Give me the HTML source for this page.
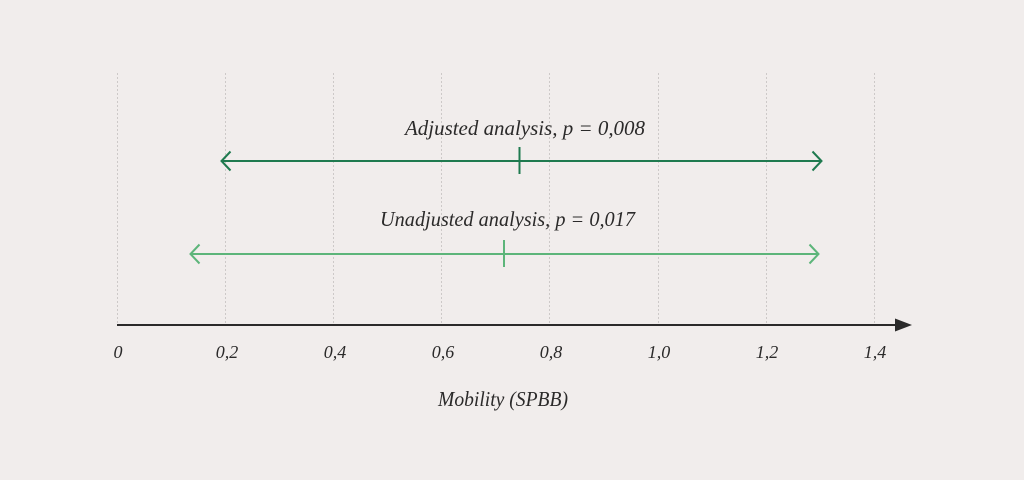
<!DOCTYPE html>
<html>
<head>
<meta charset="utf-8">
<style>
html,body{margin:0;padding:0;background:#f1edec;}
svg{display:block;}
text{font-family:"Liberation Serif",serif;font-style:italic;fill:#2b2a2a;}
</style>
</head>
<body>
<svg width="1024" height="480" viewBox="0 0 1024 480" xmlns="http://www.w3.org/2000/svg">
<rect width="1024" height="480" fill="#f1edec"/>
<g stroke="#cdc9c8" stroke-width="1" stroke-dasharray="2,2">
<line x1="117.5" y1="73" x2="117.5" y2="325"/>
<line x1="225.5" y1="73" x2="225.5" y2="325"/>
<line x1="333.5" y1="73" x2="333.5" y2="325"/>
<line x1="441.5" y1="73" x2="441.5" y2="325"/>
<line x1="549.5" y1="73" x2="549.5" y2="325"/>
<line x1="658.5" y1="73" x2="658.5" y2="325"/>
<line x1="766.5" y1="73" x2="766.5" y2="325"/>
<line x1="874.5" y1="73" x2="874.5" y2="325"/>
</g>
<line x1="117" y1="325" x2="898" y2="325" stroke="#2b2a2a" stroke-width="2"/>
<polygon points="895,318.5 912,325 895,331.5" fill="#2b2a2a"/>

<g stroke="#1f7a4f" stroke-width="2" fill="none">
<line x1="222" y1="161" x2="821" y2="161"/>
<polyline points="230.5,151.5 221.5,161 230.5,170.5"/>
<polyline points="812.5,151.5 821.5,161 812.5,170.5"/>
<line x1="519.5" y1="147" x2="519.5" y2="174"/>
</g>
<g stroke="#5db57a" stroke-width="2" fill="none">
<line x1="191" y1="254" x2="818" y2="254"/>
<polyline points="199.5,244.5 190.5,254 199.5,263.5"/>
<polyline points="809.5,244.5 818.5,254 809.5,263.5"/>
<line x1="504" y1="240" x2="504" y2="267"/>
</g>

<text x="405" y="135" font-size="21" textLength="240" lengthAdjust="spacingAndGlyphs">Adjusted analysis,  p = 0,008</text>
<text x="380" y="226" font-size="21" textLength="255" lengthAdjust="spacingAndGlyphs">Unadjusted analysis, p = 0,017</text>

<g font-size="18" text-anchor="middle">
<text x="118" y="358">0</text>
<text x="227" y="358">0,2</text>
<text x="335" y="358">0,4</text>
<text x="443" y="358">0,6</text>
<text x="551" y="358">0,8</text>
<text x="659" y="358">1,0</text>
<text x="767" y="358">1,2</text>
<text x="875" y="358">1,4</text>
</g>
<text x="438" y="406" font-size="21" textLength="130" lengthAdjust="spacingAndGlyphs">Mobility (SPBB)</text>
</svg>
</body>
</html>
